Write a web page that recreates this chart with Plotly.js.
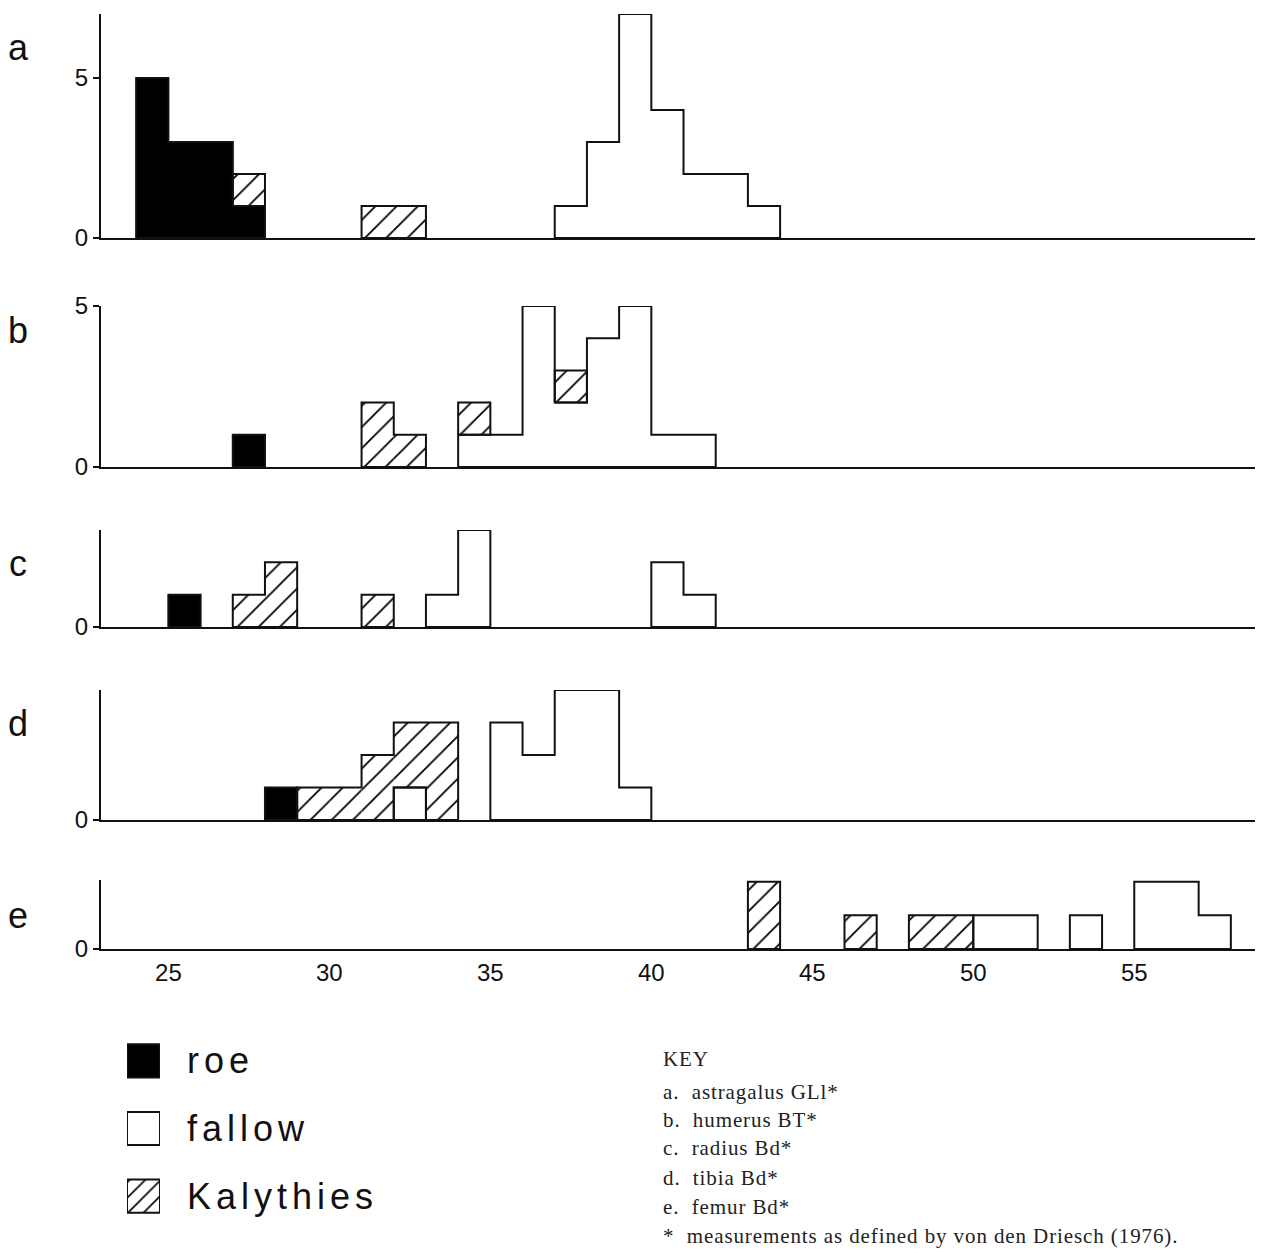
<!DOCTYPE html>
<html><head><meta charset="utf-8">
<script src="https://cdn.plot.ly/plotly-3.0.1.min.js"></script>
<style>
html,body{margin:0;padding:0;background:#fff;}
#chart{width:1266px;height:1249px;}
.y6tick text{letter-spacing:5px;}
.annotation-text{letter-spacing:0.9px;}
</style></head><body><div id="chart"></div>
<script>
// ---- data: bin lower edges (width 1) and counts ----
// panel a
const roeBinsA = [24, 25, 26, 27], roeCountsA = [5, 3, 3, 1];
const fallowBinsA = [37, 38, 39, 40, 41, 42, 43], fallowCountsA = [1, 3, 7, 4, 2, 2, 1];
const kalBinsA = [27, 31, 32], kalCountsA = [1, 1, 1];
// panel b
const roeBinsB = [27], roeCountsB = [1];
const fallowBinsB = [34, 35, 36, 37, 38, 39, 40, 41], fallowCountsB = [1, 1, 5, 2, 4, 5, 1, 1];
const kalBinsB = [31, 32, 34, 37], kalCountsB = [2, 1, 1, 1];
// panel c
const roeBinsC = [25], roeCountsC = [1];
const fallowBinsC = [33, 34, 40, 41], fallowCountsC = [1, 3, 2, 1];
const kalBinsC = [27, 28, 31], kalCountsC = [1, 2, 1];
// panel d
const roeBinsD = [28], roeCountsD = [1];
const fallowBinsD = [32, 35, 36, 37, 38, 39], fallowCountsD = [1, 3, 2, 4, 4, 1];
const kalBinsD = [29, 30, 31, 32, 33], kalCountsD = [1, 1, 2, 2, 3];
// panel e
const roeBinsE = [], roeCountsE = [];
const fallowBinsE = [50, 51, 53, 55, 56, 57], fallowCountsE = [1, 1, 1, 2, 2, 1];
const kalBinsE = [43, 46, 48, 49], kalCountsE = [2, 1, 1, 1];

const panelLabels = ['a', 'b', 'c', 'd', 'e'];
const yMax = [7, 5, 3, 4, 2.05];
const yTickVals = [[0, 5], [0, 5], [0], [0], [0]];
const xTickVals = [25, 30, 35, 40, 45, 50, 55];
const speciesNames = ['roe', 'fallow', 'Kalythies'];
const keyLines = ['KEY', 'a.\u00a0 astragalus GLl*', 'b.\u00a0 humerus BT*', 'c.\u00a0 radius Bd*',
  'd.\u00a0 tibia Bd*', 'e.\u00a0 femur Bd*', '*\u00a0 measurements as defined by von den Driesch (1976).'];

// ---- styles / layout geometry ----
const W = 1266, H = 1249;
const panelPx = [[14, 238], [306, 467], [530, 627], [690, 820], [880, 949]];
const letterY = [47, 330, 563, 723, 915];
const keyY = [1059, 1092, 1120, 1148, 1178, 1207, 1236];
const xDomain = [101 / W, 1255 / W];
const xRange = [22.907, 58.75];
const ink = '#111';

const panelData = [
  [[roeBinsA, roeCountsA], [fallowBinsA, fallowCountsA], [kalBinsA, kalCountsA]],
  [[roeBinsB, roeCountsB], [fallowBinsB, fallowCountsB], [kalBinsB, kalCountsB]],
  [[roeBinsC, roeCountsC], [fallowBinsC, fallowCountsC], [kalBinsC, kalCountsC]],
  [[roeBinsD, roeCountsD], [fallowBinsD, fallowCountsD], [kalBinsD, kalCountsD]],
  [[roeBinsE, roeCountsE], [fallowBinsE, fallowCountsE], [kalBinsE, kalCountsE]]
];
const hatch = {shape: '/', fgcolor: '#000', bgcolor: '#fff', size: 15, solidity: 0.12, fillmode: 'replace'};
const speciesMarker = [
  {color: '#000', line: {color: '#000', width: 1}},
  {color: '#fff', line: {width: 0}},
  {color: '#fff', line: {width: 0}, pattern: hatch}
];

function outline(bins, counts, bases) {
  const xs = [], ys = [];
  let i = 0;
  while (i < bins.length) {
    let j = i;
    while (j + 1 < bins.length && bins[j + 1] === bins[j] + 1) j++;
    const pts = [[bins[i], bases[i]]];
    for (let k = i; k <= j; k++) {
      const top = bases[k] + counts[k];
      pts.push([bins[k], top]);
      pts.push([bins[k] + 1, top]);
    }
    for (let k = j; k >= i; k--) {
      pts.push([bins[k] + 1, bases[k]]);
      pts.push([bins[k], bases[k]]);
    }
    pts.forEach(p => { xs.push(p[0]); ys.push(p[1]); });
    xs.push(null); ys.push(null);
    i = j + 1;
  }
  return {xs, ys};
}

const traces = [];
const layout = {
  width: W, height: H,
  margin: {l: 0, r: 0, t: 0, b: 0},
  paper_bgcolor: '#fff', plot_bgcolor: 'rgba(0,0,0,0)',
  showlegend: false, barmode: 'overlay',
  font: {family: 'Liberation Sans, Arial, sans-serif', color: ink},
  annotations: []
};

panelData.forEach((species, pi) => {
  const n = pi + 1;
  const xa = 'x' + (n === 1 ? '' : n), ya = 'y' + (n === 1 ? '' : n);
  const stack = {};
  species.forEach(([bins, counts], si) => {
    if (!bins.length) return;
    const bases = bins.map(b => stack[b] || 0);
    traces.push({
      type: 'bar', xaxis: xa, yaxis: ya, name: speciesNames[si],
      x: bins.map(b => b + 0.5), y: counts, base: bases, width: 1,
      marker: speciesMarker[si],
      hoverinfo: 'x+y+name'
    });
    const o = outline(bins, counts, bases);
    traces.push({
      type: 'scatter', mode: 'lines', xaxis: xa, yaxis: ya,
      x: o.xs, y: o.ys, line: {color: ink, width: 2}, hoverinfo: 'skip', connectgaps: false
    });
    bins.forEach((b, k) => { stack[b] = (stack[b] || 0) + counts[k]; });
  });
  const [top, bot] = panelPx[pi];
  layout['xaxis' + (n === 1 ? '' : n)] = {
    domain: xDomain, range: xRange, anchor: ya,
    showline: true, linewidth: 2, linecolor: ink, showgrid: false, zeroline: false,
    ticks: '', showticklabels: n === 5, tickvals: xTickVals,
    tickfont: {size: 24, color: ink}, ticklabelstandoff: 1, fixedrange: true
  };
  layout['yaxis' + (n === 1 ? '' : n)] = {
    domain: [1 - bot / H, 1 - top / H], range: [0, yMax[pi]], anchor: xa,
    showline: true, linewidth: 2, linecolor: ink, showgrid: false, zeroline: false,
    ticks: 'outside', ticklen: 6, tickwidth: 2, tickcolor: ink, tickvals: yTickVals[pi],
    tickfont: {size: 24, color: ink}, ticklabelstandoff: 0, fixedrange: true
  };
  layout.annotations.push({
    xref: 'paper', yref: 'paper', x: 18 / W, y: 1 - letterY[pi] / H,
    xanchor: 'center', yanchor: 'middle', showarrow: false,
    text: panelLabels[pi], font: {size: 36, color: ink, family: 'Liberation Sans, Arial, sans-serif'}
  });
});

// legend drawn as a small category bar chart (one bar per species)
const legendFill = [
  {color: '#000'},
  {color: '#fff'},
  {color: '#fff', pattern: {shape: '/', fgcolor: '#000', bgcolor: '#fff', size: 11, solidity: 0.15, fillmode: 'replace'}}
];
speciesNames.forEach((s, si) => {
  traces.push({
    type: 'bar', orientation: 'h', xaxis: 'x6', yaxis: 'y6', name: s,
    y: [s], x: [1], width: 0.49,
    marker: Object.assign({line: {color: ink, width: 2}}, legendFill[si]),
    hoverinfo: 'y'
  });
});
layout.xaxis6 = {domain: [127 / W, 160 / W], range: [0, 1], anchor: 'y6', visible: false, fixedrange: true};
layout.yaxis6 = {
  domain: [1 - 1230 / H, 1 - 1027 / H], type: 'category', categoryorder: 'array', categoryarray: speciesNames,
  range: [2.5, -0.5], anchor: 'x6', side: 'right', showline: false, showgrid: false, zeroline: false,
  ticks: '', tickfont: {size: 36, color: ink}, ticklabelstandoff: 26, fixedrange: true
};

keyLines.forEach((t, i) => {
  layout.annotations.push({
    xref: 'paper', yref: 'paper', x: 661 / W, y: 1 - keyY[i] / H,
    xanchor: 'left', yanchor: 'middle', showarrow: false, text: t,
    font: {size: 21, color: '#222', family: 'Liberation Serif, Times New Roman, serif'}
  });
});

Plotly.newPlot('chart', traces, layout, {displayModeBar: false, staticPlot: true});
</script></body></html>
